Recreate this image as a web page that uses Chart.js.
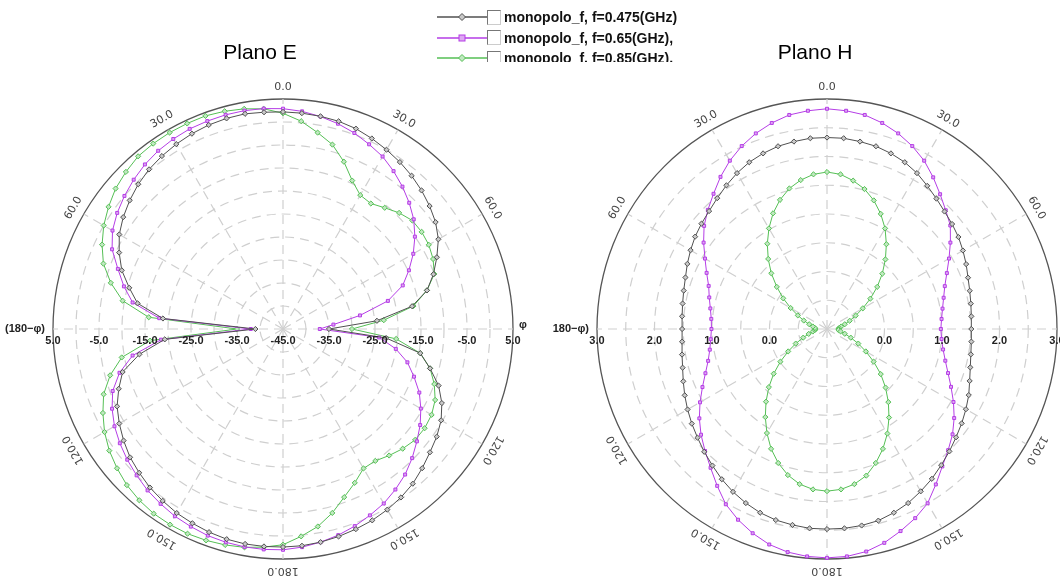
<!DOCTYPE html>
<html>
<head>
<meta charset="utf-8">
<script src="https://cdn.jsdelivr.net/npm/chart.js@4.4.1/dist/chart.umd.min.js"></script>
<style>
  body { margin: 0; background: #fff; width: 1060px; height: 578px; overflow: hidden; position: relative;
         font-family: "Liberation Sans", Arial, sans-serif; }
  canvas { position: absolute; top: 0; }
  #cE { left: 0; }
  #cH { left: 553px; }
  .title { position: absolute; top: 40px; width: 200px; text-align: center; font-size: 21px; line-height: 24px; color: #000; }
  #legend { position: absolute; left: 437px; top: 7px; height: 55px; overflow: hidden; z-index: 2; }
  .row { height: 20.5px; display: flex; align-items: center; white-space: nowrap; }
  .box { display: inline-block; width: 12px; height: 13px; border: 1px solid #777; border-right-color: #ccc;
         border-bottom-color: #ccc; margin: 0 3px 0 0; background: #fff; }
  .lbl { font-weight: bold; font-size: 14px; color: #111; }
</style>
</head>
<body>
<canvas id="cE" width="553" height="578"></canvas>
<canvas id="cH" width="507" height="578"></canvas>
<div class="title" style="left:160px">Plano E</div>
<div class="title" style="left:715px">Plano H</div>
<div id="legend"></div>
<script>
// angle of each sample, degrees clockwise from the top
const angles = [0, 5, 10, 15, 20, 25, 30, 35, 40, 45, 50, 55, 60, 65, 70, 75, 80, 85,
  90, 95, 100, 105, 110, 115, 120, 125, 130, 135, 140, 145, 150, 155, 160, 165, 170, 175,
  180, 185, 190, 195, 200, 205, 210, 215, 220, 225, 230, 235, 240, 245, 250, 255, 260, 265,
  270, 275, 280, 285, 290, 295, 300, 305, 310, 315, 320, 325, 330, 335, 340, 345, 350, 355];

const seriesNames = ['monopolo_f, f=0.475(GHz)', 'monopolo_f, f=0.65(GHz),', 'monopolo_f, f=0.85(GHz),'];

// Plano E (dB)
const eF475 = [2.2, 2.1, 1.95, 1.75, 1.35, 0.7, 0.0, -0.7, -1.5, -2.4, -3.4, -4.5, -6.0, -8.1, -10.2, -12.6, -16.5, -24.5, -35,
  -22.5, -14.7, -11.9, -9.0, -6.9, -5.3, -4.2, -3.3, -2.2, -1.1, -0.3, 0.35, 0.9, 1.3, 1.7, 2.05, 2.3, 2.4,
  2.45, 2.45, 2.3, 2.0, 1.6, 1.2, 0.6, 0.0, -0.8, -1.6, -2.7, -3.9, -5.2, -7.0, -8.9, -13.3, -19.2, -39,
  -18.8, -12.9, -10.4, -7.7, -5.7, -3.9, -2.6, -1.5, -0.5, 0.3, 0.9, 1.4, 1.85, 2.2, 2.4, 2.5, 2.3];
const eF65 = [2.9, 2.5, 1.9, 1.2, 0.35, -0.7, -1.7, -3.1, -4.6, -6.2, -7.9, -10.0, -12.3, -14.8, -17.3, -21.4, -28, -34, -37,
  -24, -20.1, -17.0, -14.7, -12.3, -10.4, -8.6, -7.0, -5.3, -3.7, -2.4, -1.2, -0.3, 0.6, 1.4, 2.05, 2.6, 3.0,
  3.1, 3.1, 3.0, 2.8, 2.4, 2.0, 1.4, 0.8, 0.0, -0.8, -1.7, -2.7, -4.0, -5.6, -8.2, -11.8, -18.4, -38,
  -18, -11.8, -9.2, -6.8, -4.0, -2.2, -1.0, 0.0, 0.9, 1.7, 2.3, 2.7, 3.0, 3.1, 3.2, 3.2, 3.1];
const eF85 = [1.9, 0.35, -1.65, -3.5, -6.3, -9.4, -11.4, -11.7, -10.6, -9.3, -8.3, -8.2, -8.4, -9.0, -10.0, -12.6, -16.2, -23, -30,
  -20.3, -14.7, -11.9, -10.0, -8.5, -7.7, -7.4, -7.5, -8.2, -9.1, -10.0, -10.0, -8.1, -6.1, -3.6, -1.4, 0.25, 1.9,
  2.6, 3.2, 3.6, 3.9, 4.1, 4.1, 4.0, 3.6, 3.0, 2.1, 1.1, -0.2, -1.8, -3.5, -6.1, -9.4, -16, -35,
  -15.7, -9.6, -6.25, -3.45, -1.6, 0.0, 1.3, 2.5, 3.3, 4.0, 4.2, 4.3, 4.3, 4.3, 4.0, 3.6, 3.05];

// Plano H
const hF475 = [2.33, 2.33, 2.31, 2.29, 2.25, 2.20, 2.13, 2.04, 1.96, 1.89, 1.84, 1.79, 1.73, 1.67, 1.61, 1.57, 1.54, 1.52, 1.51,
  1.52, 1.54, 1.58, 1.64, 1.72, 1.79, 1.86, 1.93, 2.01, 2.09, 2.18, 2.26, 2.34, 2.40, 2.45, 2.47, 2.48, 2.48,
  2.48, 2.46, 2.44, 2.40, 2.34, 2.27, 2.19, 2.10, 2.02, 1.94, 1.87, 1.80, 1.73, 1.66, 1.60, 1.56, 1.53, 1.52,
  1.53, 1.55, 1.58, 1.62, 1.68, 1.74, 1.80, 1.85, 1.90, 1.97, 2.05, 2.13, 2.20, 2.25, 2.29, 2.31, 2.33];
const hF65 = [2.83, 2.81, 2.78, 2.71, 2.62, 2.51, 2.38, 2.22, 2.06, 1.92, 1.80, 1.62, 1.45, 1.30, 1.18, 1.10, 1.04, 1.00, 0.98,
  1.00, 1.05, 1.13, 1.24, 1.38, 1.54, 1.70, 1.85, 1.98, 2.12, 2.30, 2.50, 2.63, 2.74, 2.85, 2.93, 2.97, 2.98,
  2.97, 2.94, 2.88, 2.78, 2.66, 2.52, 2.33, 2.15, 2.00, 1.86, 1.71, 1.55, 1.39, 1.25, 1.14, 1.07, 1.03, 1.01,
  1.02, 1.06, 1.12, 1.19, 1.31, 1.45, 1.62, 1.79, 1.93, 2.07, 2.23, 2.38, 2.51, 2.62, 2.71, 2.78, 2.81];
const hF85 = [1.73, 1.70, 1.62, 1.52, 1.38, 1.21, 1.02, 0.80, 0.58, 0.36, 0.14, -0.08, -0.28, -0.45, -0.58, -0.68, -0.75, -0.79, -0.80,
  -0.80, -0.76, -0.68, -0.56, -0.40, -0.22, -0.01, 0.22, 0.44, 0.66, 0.88, 1.10, 1.30, 1.48, 1.64, 1.74, 1.80, 1.82,
  1.80, 1.74, 1.63, 1.48, 1.30, 1.09, 0.87, 0.65, 0.43, 0.21, -0.01, -0.22, -0.40, -0.56, -0.67, -0.75, -0.79, -0.80,
  -0.79, -0.75, -0.68, -0.57, -0.44, -0.27, -0.07, 0.14, 0.37, 0.59, 0.81, 1.02, 1.22, 1.39, 1.53, 1.63, 1.70];

// angle tick labels around the rim
const rimAngles = [0, 30, 60, 120, 150, 180, 210, 240, 300, 330];
const rimLabels = ['0.0', '30.0', '60.0', '120.0', '150.0', '180.0', '150.0', '120.0', '60.0', '30.0'];

// radius tick labels along the horizontal axis
const eRadTicks = [5, -5, -15, -25, -35];
const eCenterLabel = '-45.0';
const hRadTicks = [3, 2, 1, 0];

const colors = ['#505050', '#b53de6', '#55bf55'];
const fills = ['#c8c8c8', '#dda8f2', '#c0e8c0'];
const styles = ['rectRot', 'rect', 'rectRot'];

const polarText = {
  id: 'polarText',
  afterDraw(chart, args, opts) {
    const s = chart.scales.r;
    const ctx = chart.ctx;
    const R = s.drawingArea, cx = s.xCenter, cy = s.yCenter;
    ctx.save();
    ctx.fillStyle = '#444';
    ctx.font = '11px "DejaVu Sans"';
    ctx.textAlign = 'center';
    ctx.textBaseline = 'middle';
    rimAngles.forEach((deg, k) => {
      const i = angles.indexOf(deg);
      const p = s.getPointPosition(i, R + 12);
      ctx.save();
      ctx.translate(p.x, p.y);
      ctx.rotate(s.getIndexAngle(i));
      ctx.fillText(rimLabels[k], 0, 0);
      ctx.restore();
    });
    ctx.fillStyle = '#222';
    ctx.font = 'bold 11px "Liberation Sans"';
    opts.ticks.forEach(v => {
      const d = s.getDistanceFromCenterForValue(v);
      const t = v.toFixed(1);
      ctx.fillText(t, cx - d, cy + 12);
      ctx.fillText(t, cx + d, cy + 12);
    });
    if (opts.center) ctx.fillText(opts.center, cx, cy + 12);
    ctx.textAlign = 'right';
    ctx.fillText('(180\u2212\u03c6)', cx - R - 8, cy);
    ctx.textAlign = 'left';
    ctx.fillText('\u03c6', cx + R + 6, cy - 4);
    ctx.restore();
  }
};

function makePolar(id, series, min, max, step, pad, ticks, center) {
  return new Chart(document.getElementById(id), {
    type: 'radar',
    data: {
      labels: angles,
      datasets: series.map((d, k) => ({
        label: seriesNames[k],
        data: d,
        borderColor: colors[k],
        borderWidth: 1,
        fill: false,
        tension: 0,
        pointStyle: styles[k],
        pointRadius: k === 1 ? 2.1 : 2.6,
        pointBorderWidth: 1,
        pointBorderColor: colors[k],
        pointBackgroundColor: fills[k]
      }))
    },
    options: {
      responsive: false,
      animation: false,
      events: [],
      layout: { padding: pad },
      plugins: {
        legend: { display: false },
        tooltip: { enabled: false },
        polarText: { ticks: ticks, center: center }
      },
      scales: {
        r: {
          min: min,
          max: max,
          startAngle: 0,
          ticks: { display: false, stepSize: step },
          pointLabels: { display: false },
          grid: {
            circular: true,
            color: c => (c.tick && c.tick.value === max) ? '#555' : '#cfcfcf',
            lineWidth: c => (c.tick && c.tick.value === max) ? 1.3 : 1.2
          },
          border: { dash: c => (c.tick && c.tick.value === max) ? [] : [9, 6] },
          angleLines: {
            color: '#cfcfcf',
            lineWidth: c => c.index % 6 === 0 ? 1.2 : 0,
            borderDash: [9, 6]
          }
        }
      }
    },
    plugins: [polarText]
  });
}

makePolar('cE', [eF475, eF65, eF85], -45, 5, 5, { left: 53, right: 40, top: 99, bottom: 19 }, eRadTicks, eCenterLabel);
makePolar('cH', [hF475, hF65, hF85], -1, 3, 0.5, { left: 44, right: 3, top: 99, bottom: 19 }, hRadTicks, null);

// legend
const legend = document.getElementById('legend');
seriesNames.forEach((name, k) => {
  const row = document.createElement('div');
  row.className = 'row';
  const mark = k === 1
    ? '<rect x="22" y="4" width="6" height="6" fill="' + fills[k] + '" stroke="' + colors[k] + '"/>'
    : '<polygon points="25,3.5 28.5,7 25,10.5 21.5,7" fill="' + fills[k] + '" stroke="' + colors[k] + '"/>';
  row.innerHTML = '<svg width="50" height="14"><line x1="0" y1="7" x2="50" y2="7" stroke="' + colors[k] +
    '" stroke-width="1.3"/>' + mark + '</svg><span class="box"></span><span class="lbl">' + name + '</span>';
  legend.appendChild(row);
});
</script>
</body>
</html>
